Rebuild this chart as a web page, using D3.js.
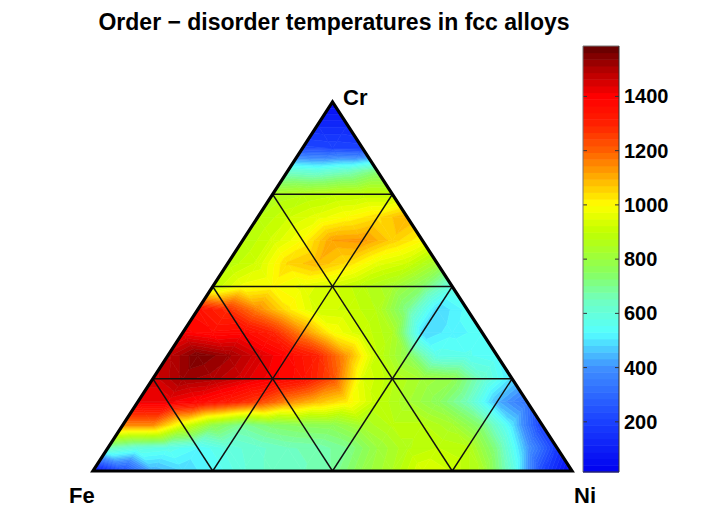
<!DOCTYPE html>
<html>
<head>
<meta charset="utf-8">
<script src="https://cdn.jsdelivr.net/npm/d3@7"></script>
<style>
  body { margin: 0; background: #fff; }
  text { font-family: "Liberation Sans", Arial, sans-serif; font-weight: bold; fill: #000; }
</style>
</head>
<body>
<svg id="chart" width="706" height="531"></svg>
<script>
// temperatures, row0 is the Fe-Ni edge, row16 is the Cr corner
const row0 = [40, 220, 430, 480, 530, 600, 640, 650, 680, 780, 850, 950, 920, 840, 600, 220, 30];
const row1 = [650, 590, 570, 530, 590, 620, 650, 660, 700, 800, 870, 900, 880, 700, 420, 180];
const row2 = [1150, 1150, 950, 780, 690, 740, 760, 770, 830, 880, 880, 830, 720, 500, 190];
const row3 = [1420, 1420, 1380, 1320, 1250, 1150, 1080, 1020, 900, 830, 760, 650, 440, 330];
const row4 = [1450, 1520, 1500, 1450, 1400, 1350, 1230, 950, 880, 820, 780, 630, 490];
const row5 = [1480, 1560, 1520, 1450, 1380, 1300, 1120, 900, 770, 570, 560, 530];
const row6 = [1400, 1370, 1380, 1300, 1150, 1000, 920, 850, 480, 520, 540];
const row7 = [1350, 1280, 1150, 1030, 930, 920, 870, 700, 480, 540];
const row8 = [900, 980, 1000, 960, 930, 880, 830, 740, 580];
const row9 = [880, 930, 1050, 1090, 1040, 960, 920, 820];
const row10 = [870, 930, 1000, 1120, 1130, 1060, 1000];
const row11 = [870, 920, 960, 1000, 1040, 1100];
const row12 = [850, 870, 890, 900, 900];
const row13 = [620, 600, 640, 720];
const row14 = [220, 210, 200];
const row15 = [130, 130];
const row16 = [40];
const rows = [row0, row1, row2, row3, row4, row5, row6, row7, row8, row9, row10, row11, row12, row13, row14, row15, row16];

const colorTicks = [200, 400, 600, 800, 1000, 1200, 1400];
const colorStops = [15, 200, 400, 530, 650, 750, 900, 1000, 1100, 1200, 1300, 1400, 1500, 1586];
const colorValues = ["#0000f0", "#1a40ff", "#4090ff", "#55ffff", "#70ffc0", "#88ff60", "#c0ff00", "#ffff00", "#ffb000", "#ff6000", "#ff2000", "#ff0000", "#b00000", "#600000"];
const cornerLabels = ["Fe", "Ni", "Cr"];
const nBands = 64;

const svg = d3.select("#chart");
const n = rows.length - 1;

// ternary position: column goes along the base, each row shifts half a step
const xs = d3.scaleLinear().domain([0, n]).range([93, 572]);
const ys = d3.scaleLinear().domain([0, n]).range([471, 102]);
const px = (r, c) => [xs(c + r / 2), ys(r)];

const colormap = d3.scaleLinear().domain(colorStops).range(colorValues).interpolate(d3.interpolateRgb);
const vmin = colorStops[0], vmax = colorStops[colorStops.length - 1];
const bandStep = (vmax - vmin) / nBands;
const bandColor = (i) => colormap(vmin + (i + 0.5) * bandStep);

// clip polygon [x, y, v] to one side of a level
function clip(poly, level, above) {
  const out = [];
  poly.forEach((p, i) => {
    const q = poly[(i + 1) % poly.length];
    const pIn = above ? p[2] >= level : p[2] <= level;
    const qIn = above ? q[2] >= level : q[2] <= level;
    if (pIn) out.push(p);
    if (pIn !== qIn) {
      const t = (level - p[2]) / (q[2] - p[2]);
      out.push([p[0] + t * (q[0] - p[0]), p[1] + t * (q[1] - p[1]), level]);
    }
  });
  return out;
}

const node = (r, c) => {
  const p = px(r, c);
  return [p[0], p[1], rows[r][c]];
};
const tris = [];
for (let r = 0; r < n; r++) {
  for (let c = 0; c < n - r; c++) {
    tris.push([node(r, c), node(r, c + 1), node(r + 1, c)]);
    if (c < n - r - 1) tris.push([node(r, c + 1), node(r + 1, c + 1), node(r + 1, c)]);
  }
}

// filled contour bands, triangle by triangle
const bands = [];
tris.forEach((t) => {
  const vals = t.map((d) => d[2]);
  const lo = Math.max(0, Math.floor((d3.min(vals) - vmin) / bandStep));
  const hi = Math.min(nBands - 1, Math.floor((d3.max(vals) - vmin) / bandStep));
  for (let i = lo; i <= hi; i++) {
    let poly = clip(t, vmin + i * bandStep, true);
    if (poly.length) poly = clip(poly, vmin + (i + 1) * bandStep, false);
    if (poly.length > 2) bands.push({ i, poly });
  }
});

svg.append("g")
  .selectAll("polygon")
  .data(bands)
  .join("polygon")
  .attr("points", (d) => d.poly.map((p) => p[0] + "," + p[1]).join(" "))
  .attr("fill", (d) => bandColor(d.i))
  .attr("stroke", (d) => bandColor(d.i))
  .attr("stroke-width", 0.6);

// inner grid at every quarter
const line = d3.line();
const grid = svg.append("g").attr("fill", "none").attr("stroke", "#111").attr("stroke-width", 1.4);
[4, 8, 12].forEach((k) => {
  grid.append("path").attr("d", line([px(k, 0), px(k, n - k)]));
  grid.append("path").attr("d", line([px(0, k), px(n - k, k)]));
  grid.append("path").attr("d", line([px(0, k), px(k, 0)]));
});

svg.append("path")
  .attr("d", line([px(0, 0), px(0, n), px(n, 0)]) + "Z")
  .attr("fill", "none")
  .attr("stroke", "#000")
  .attr("stroke-width", 3.2)
  .attr("stroke-linejoin", "miter");

// corner labels
const labelSize = 22;
svg.append("text").attr("x", 69).attr("y", 503).attr("font-size", labelSize).text(cornerLabels[0]);
svg.append("text").attr("x", 574).attr("y", 503).attr("font-size", labelSize).text(cornerLabels[1]);
svg.append("text").attr("x", 343).attr("y", 105).attr("font-size", labelSize).text(cornerLabels[2]);

svg.append("text")
  .attr("x", 334)
  .attr("y", 30)
  .attr("text-anchor", "middle")
  .attr("font-size", 23)
  .text("Order \u2212 disorder temperatures in fcc alloys");

// colorbar
const barY = d3.scaleLinear().domain([vmin, vmax]).range([472, 46]);
const barX = 583, barW = 36;
const bar = svg.append("g");
bar.selectAll("rect")
  .data(d3.range(nBands))
  .join("rect")
  .attr("x", barX)
  .attr("width", barW)
  .attr("y", (i) => barY(vmin + (i + 1) * bandStep))
  .attr("height", bandStep * 426 / (vmax - vmin) + 0.5)
  .attr("fill", bandColor);

const axis = svg.append("g")
  .attr("transform", "translate(" + (barX + barW) + ",0)")
  .call(d3.axisRight(barY).tickValues(colorTicks).tickFormat(d3.format("d")).tickSize(0).tickPadding(5));
axis.select(".domain").remove();
axis.attr("font-size", 20).attr("font-family", null);

const tickG = svg.append("g").attr("stroke", "#333").attr("stroke-width", 1);
colorTicks.forEach((v) => {
  tickG.append("line").attr("x1", barX).attr("x2", barX + 4).attr("y1", barY(v)).attr("y2", barY(v));
  tickG.append("line").attr("x1", barX + barW - 4).attr("x2", barX + barW).attr("y1", barY(v)).attr("y2", barY(v));
});

const barBox = svg.append("g").attr("fill", "none").attr("stroke-width", 1);
barBox.append("path").attr("d", line([[barX, 472], [barX, 46], [barX + barW, 46]])).attr("stroke", "#777");
barBox.append("path").attr("d", line([[barX, 472], [barX + barW, 472], [barX + barW, 46]])).attr("stroke", "#333");
</script>
</body>
</html>
